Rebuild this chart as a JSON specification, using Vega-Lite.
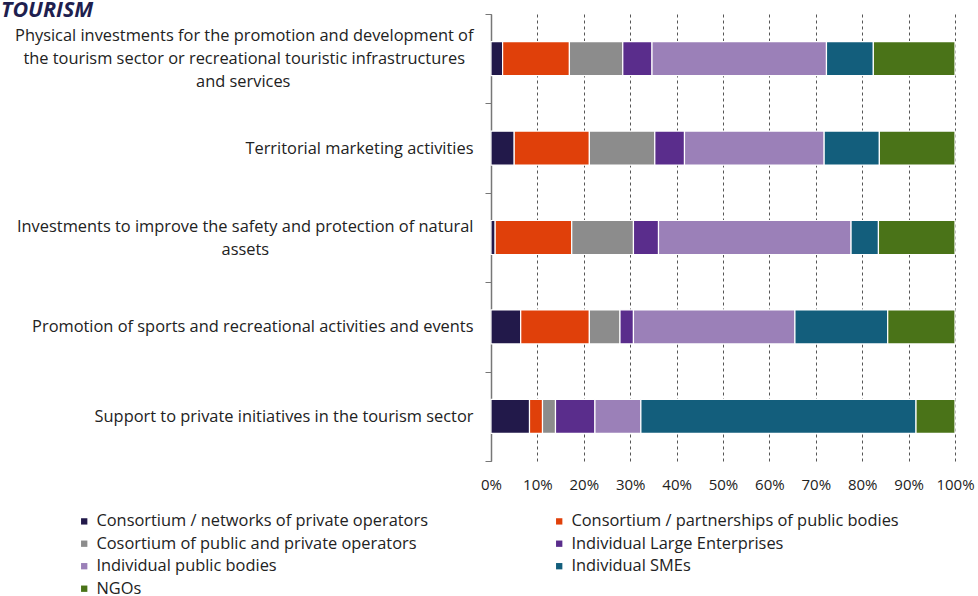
{
  "$schema": "https://vega.github.io/schema/vega-lite/v6.json",
  "width": 464,
  "height": 447,
  "autosize": {"type": "none"},
  "padding": {"left": 491, "top": 14, "right": 23, "bottom": 135},
  "background": "white",
  "title": {
    "text": "TOURISM",
    "anchor": "start",
    "frame": "group",
    "dx": -490,
    "dy": 27,
    "offset": -5,
    "baseline": "alphabetic",
    "font": "Open Sans",
    "fontSize": 21.5,
    "fontWeight": "bold",
    "fontStyle": "italic",
    "color": "#1f1f4f"
  },
  "data": {
    "values": [
      {"cat": "Physical investments for the promotion and development of the tourism sector or recreational touristic infrastructures and services", "type": "Consortium / networks of private operators", "k": 1, "v": 2.5},
      {"cat": "Physical investments for the promotion and development of the tourism sector or recreational touristic infrastructures and services", "type": "Consortium / partnerships of public bodies", "k": 2, "v": 14.4},
      {"cat": "Physical investments for the promotion and development of the tourism sector or recreational touristic infrastructures and services", "type": "Cosortium of public and private operators", "k": 3, "v": 11.5},
      {"cat": "Physical investments for the promotion and development of the tourism sector or recreational touristic infrastructures and services", "type": "Individual Large Enterprises", "k": 4, "v": 6.3},
      {"cat": "Physical investments for the promotion and development of the tourism sector or recreational touristic infrastructures and services", "type": "Individual public bodies", "k": 5, "v": 37.6},
      {"cat": "Physical investments for the promotion and development of the tourism sector or recreational touristic infrastructures and services", "type": "Individual SMEs", "k": 6, "v": 10.1},
      {"cat": "Physical investments for the promotion and development of the tourism sector or recreational touristic infrastructures and services", "type": "NGOs", "k": 7, "v": 17.6},
      {"cat": "Territorial marketing activities", "type": "Consortium / networks of private operators", "k": 1, "v": 5.0},
      {"cat": "Territorial marketing activities", "type": "Consortium / partnerships of public bodies", "k": 2, "v": 16.2},
      {"cat": "Territorial marketing activities", "type": "Cosortium of public and private operators", "k": 3, "v": 14.1},
      {"cat": "Territorial marketing activities", "type": "Individual Large Enterprises", "k": 4, "v": 6.4},
      {"cat": "Territorial marketing activities", "type": "Individual public bodies", "k": 5, "v": 30.1},
      {"cat": "Territorial marketing activities", "type": "Individual SMEs", "k": 6, "v": 11.9},
      {"cat": "Territorial marketing activities", "type": "NGOs", "k": 7, "v": 16.3},
      {"cat": "Investments to improve the safety and protection of natural assets", "type": "Consortium / networks of private operators", "k": 1, "v": 0.9},
      {"cat": "Investments to improve the safety and protection of natural assets", "type": "Consortium / partnerships of public bodies", "k": 2, "v": 16.5},
      {"cat": "Investments to improve the safety and protection of natural assets", "type": "Cosortium of public and private operators", "k": 3, "v": 13.3},
      {"cat": "Investments to improve the safety and protection of natural assets", "type": "Individual Large Enterprises", "k": 4, "v": 5.4},
      {"cat": "Investments to improve the safety and protection of natural assets", "type": "Individual public bodies", "k": 5, "v": 41.5},
      {"cat": "Investments to improve the safety and protection of natural assets", "type": "Individual SMEs", "k": 6, "v": 5.9},
      {"cat": "Investments to improve the safety and protection of natural assets", "type": "NGOs", "k": 7, "v": 16.5},
      {"cat": "Promotion of sports and recreational activities and events", "type": "Consortium / networks of private operators", "k": 1, "v": 6.4},
      {"cat": "Promotion of sports and recreational activities and events", "type": "Consortium / partnerships of public bodies", "k": 2, "v": 14.8},
      {"cat": "Promotion of sports and recreational activities and events", "type": "Cosortium of public and private operators", "k": 3, "v": 6.6},
      {"cat": "Promotion of sports and recreational activities and events", "type": "Individual Large Enterprises", "k": 4, "v": 2.9},
      {"cat": "Promotion of sports and recreational activities and events", "type": "Individual public bodies", "k": 5, "v": 34.8},
      {"cat": "Promotion of sports and recreational activities and events", "type": "Individual SMEs", "k": 6, "v": 20.0},
      {"cat": "Promotion of sports and recreational activities and events", "type": "NGOs", "k": 7, "v": 14.5},
      {"cat": "Support to private initiatives in the tourism sector", "type": "Consortium / networks of private operators", "k": 1, "v": 8.3},
      {"cat": "Support to private initiatives in the tourism sector", "type": "Consortium / partnerships of public bodies", "k": 2, "v": 2.8},
      {"cat": "Support to private initiatives in the tourism sector", "type": "Cosortium of public and private operators", "k": 3, "v": 2.8},
      {"cat": "Support to private initiatives in the tourism sector", "type": "Individual Large Enterprises", "k": 4, "v": 8.5},
      {"cat": "Support to private initiatives in the tourism sector", "type": "Individual public bodies", "k": 5, "v": 9.9},
      {"cat": "Support to private initiatives in the tourism sector", "type": "Individual SMEs", "k": 6, "v": 59.3},
      {"cat": "Support to private initiatives in the tourism sector", "type": "NGOs", "k": 7, "v": 8.4}
    ]
  },
  "mark": {"type": "bar", "stroke": "white", "strokeWidth": 1.2, "height": {"band": 0.38}},
  "encoding": {
    "y": {
      "field": "cat",
      "type": "nominal",
      "sort": null,
      "scale": {"paddingInner": 0, "paddingOuter": 0},
      "axis": {
        "title": null,
        "labelExpr": "indexof(datum.label, 'Physical') === 0 ? ['Physical investments for the promotion and development of', '\u200b', pad('the tourism sector or recreational touristic infrastructures', 62, '\u00a0') + '\u200b', '\u200b', pad('and services', 55, '\u00a0') + '\u200b'] : indexof(datum.label, 'Investments') === 0 ? ['\u200b', 'Investments to improve the safety and protection of natural', '\u200b', pad('assets', 54, '\u00a0') + '\u200b'] : ['\u200b', '\u200b', datum.label]",
        "labelLimit": 0,
        "labelFont": "Open Sans",
        "labelFontSize": 16.4,
        "labelColor": "#222222",
        "labelLineHeight": 11.5,
        "labelAlign": "right",
        "labelPadding": 12,
        "labelOffset": -23,
        "tickBand": "extent",
        "ticks": true,
        "tickSize": 6,
        "tickColor": "#777777",
        "domainColor": "#777777",
        "domainWidth": 1.5,
        "grid": false
      }
    },
    "x": {
      "field": "v",
      "type": "quantitative",
      "stack": "normalize",
      "scale": {"domain": [0, 1], "nice": false},
      "axis": {
        "title": null,
        "format": ".0%",
        "values": [0, 0.1, 0.2, 0.3, 0.4, 0.5, 0.6, 0.7, 0.8, 0.9, 1],
        "labelFont": "Open Sans",
        "labelFontSize": 15,
        "labelColor": "#222222",
        "labelPadding": 16,
        "labelOverlap": false,
        "labelFlush": false,
        "ticks": false,
        "domain": false,
        "grid": true,
        "gridColor": "#555555",
        "gridDash": [3, 3],
        "gridWidth": 1
      }
    },
    "color": {
      "field": "type",
      "type": "nominal",
      "scale": {
        "domain": [
          "Consortium / networks of private operators",
          "Consortium / partnerships of public bodies",
          "Cosortium of public and private operators",
          "Individual Large Enterprises",
          "Individual public bodies",
          "Individual SMEs",
          "NGOs"
        ],
        "range": ["#22194a", "#e0400a", "#8c8c8c", "#5a2d8c", "#9b80b8", "#135e7c", "#4a7318"]
      },
      "legend": {
        "title": null,
        "orient": "none",
        "direction": "horizontal",
        "legendX": -415,
        "legendY": 499,
        "columns": 2,
        "columnPadding": 123,
        "rowPadding": 5.5,
        "symbolType": "square",
        "symbolSize": 40,
        "symbolStrokeWidth": 0,
        "labelFont": "Open Sans",
        "labelFontSize": 16.4,
        "labelColor": "#222222",
        "labelLimit": 0,
        "labelOffset": 4
      }
    },
    "order": {"field": "k", "type": "quantitative"}
  },
  "config": {"view": {"stroke": null}}
}
